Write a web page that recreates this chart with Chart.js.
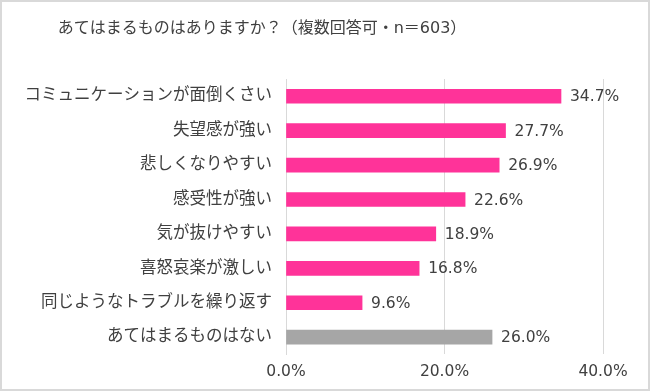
<!DOCTYPE html>
<html>
<head>
<meta charset="utf-8">
<script src="https://cdn.jsdelivr.net/npm/chart.js@4"></script>
<style>
    html, body { margin: 0; padding: 0; background: #ffffff; }
    #wrap { width: 650px; height: 391px; position: relative; }
</style>
</head>
<body>
<div id="wrap"><canvas id="barChart" width="650" height="391"></canvas></div>
<script>
const titleText = 'あてはまるものはありますか？（複数回答可・n＝603）';
const categories = [
    'コミュニケーションが面倒くさい',
    '失望感が強い',
    '悲しくなりやすい',
    '感受性が強い',
    '気が抜けやすい',
    '喜怒哀楽が激しい',
    '同じようなトラブルを繰り返す',
    'あてはまるものはない'
];
const values = [34.7, 27.7, 26.9, 22.6, 18.9, 16.8, 9.6, 26.0];
const xTicks = [0, 20, 40];

const colors = {
    bar: '#FF3399',
    none: '#A6A6A6',
    text: '#404040',
    grid: '#D9D9D9'
};
const fontFamily = '"DejaVu Sans", "Noto Sans CJK JP", sans-serif';

// background, outer frame and title
const framePlugin = {
    id: 'frame',
    beforeDraw(chart) {
        const ctx = chart.ctx;
        ctx.save();
        ctx.fillStyle = '#ffffff';
        ctx.fillRect(0, 0, chart.width, chart.height);
        ctx.strokeStyle = colors.grid;
        ctx.lineWidth = 2;
        ctx.strokeRect(1, 1, chart.width - 2, chart.height - 2);
        ctx.fillStyle = colors.text;
        ctx.font = '16px ' + fontFamily;
        ctx.textAlign = 'center';
        ctx.textBaseline = 'middle';
        ctx.fillText(titleText, 262, 29);
        ctx.restore();
    }
};

// value labels at the end of each bar
const valueLabels = {
    id: 'valueLabels',
    afterDatasetsDraw(chart) {
        const ctx = chart.ctx;
        const meta = chart.getDatasetMeta(0);
        ctx.save();
        ctx.fillStyle = colors.text;
        ctx.font = '15.5px ' + fontFamily;
        ctx.textAlign = 'left';
        ctx.textBaseline = 'middle';
        meta.data.forEach((bar, i) => {
            ctx.fillText(values[i].toFixed(1) + '%', bar.x + 9, bar.y + 1);
        });
        ctx.restore();
    }
};

const ctx = document.getElementById('barChart').getContext('2d');
new Chart(ctx, {
    type: 'bar',
    data: {
        labels: categories,
        datasets: [{
            data: values,
            backgroundColor: values.map((v, i) => i === values.length - 1 ? colors.none : colors.bar),
            borderWidth: 0,
            barThickness: 14
        }]
    },
    options: {
        indexAxis: 'y',
        responsive: false,
        animation: false,
        layout: {
            padding: { top: 79, right: 47, bottom: 2, left: 0 }
        },
        plugins: {
            legend: { display: false },
            tooltip: { enabled: false }
        },
        scales: {
            x: {
                min: 0,
                max: 40,
                afterBuildTicks: (scale) => {
                    scale.ticks = xTicks.map(v => ({ value: v }));
                },
                grid: {
                    color: colors.grid,
                    lineWidth: 1,
                    drawTicks: false
                },
                border: { display: false },
                ticks: {
                    padding: 8,
                    color: colors.text,
                    font: { family: fontFamily, size: 15.5 },
                    callback: (value) => value.toFixed(1) + '%'
                }
            },
            y: {
                grid: { display: false, drawTicks: false },
                border: { color: colors.grid, width: 1 },
                afterFit: (scale) => { scale.width = 286; },
                ticks: {
                    padding: 14,
                    color: colors.text,
                    font: { family: fontFamily, size: 16.5 }
                }
            }
        }
    },
    plugins: [framePlugin, valueLabels]
});
</script>
</body>
</html>
